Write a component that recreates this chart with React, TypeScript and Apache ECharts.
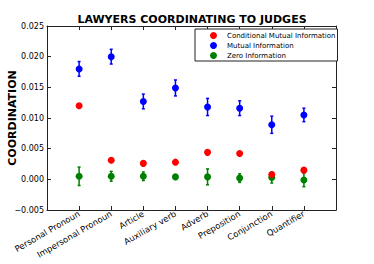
import React, { useEffect, useRef } from "react";
import * as echarts from "echarts";

const categories = [
  "Personal Pronoun",
  "Impersonal Pronoun",
  "Article",
  "Auxiliary verb",
  "Adverb",
  "Preposition",
  "Conjunction",
  "Quantifier",
];
const cmiValues = [0.012, 0.0031, 0.0026, 0.0028, 0.0044, 0.0042, 0.0008, 0.0015];
const miValues = [0.018, 0.02, 0.0127, 0.0149, 0.0118, 0.0116, 0.0089, 0.0105];
const miErrors = [0.0012, 0.0012, 0.0012, 0.0013, 0.0014, 0.0012, 0.0014, 0.0011];
const zeroValues = [0.0005, 0.0005, 0.0005, 0.0004, 0.0004, 0.0002, 0.0003, -0.0001];
const zeroErrors = [0.0015, 0.0008, 0.0007, 0.0003, 0.0013, 0.0007, 0.0009, 0.0011];
const yTicks = { min: -0.005, max: 0.025, interval: 0.005 };
const tickPositions = categories.map((_, i) => i);

const FONT = "DejaVu Sans";

function errorBarSeries(values: number[], errs: number[], color: string, z: number) {
  return {
    type: "custom",
    z,
    silent: true,
    data: values.map((v, i) => [i, v - errs[i], v + errs[i]]),
    renderItem: (params: any, api: any) => {
      const x = api.value(0);
      const lo = api.coord([x, api.value(1)]);
      const hi = api.coord([x, api.value(2)]);
      const cap = 1.5;
      const style = { stroke: color, lineWidth: 1.5 };
      return {
        type: "group",
        children: [
          { type: "line", shape: { x1: lo[0], y1: lo[1], x2: hi[0], y2: hi[1] }, style },
          { type: "line", shape: { x1: lo[0] - cap, y1: lo[1], x2: lo[0] + cap, y2: lo[1] }, style },
          { type: "line", shape: { x1: hi[0] - cap, y1: hi[1], x2: hi[0] + cap, y2: hi[1] }, style },
        ],
      };
    },
  };
}

export default function App() {
  const ref = useRef<HTMLDivElement>(null);
  useEffect(() => {
    if (!ref.current) return;
    const chart = echarts.init(ref.current, undefined, { renderer: "svg" });
    const frame = { lineStyle: { color: "#222", width: 1 } };
    const fmtY = (v: number) => {
      const n = Math.abs(v) < 1e-9 ? 0 : v;
      return n.toFixed(3).replace("-", "\u2212");
    };
    chart.setOption({
      animation: false,
      textStyle: { fontFamily: FONT },
      grid: { left: 47, right: 38, top: 26, bottom: 54, outerBoundsMode: "none", containLabel: false },
      graphic: [
        {
          type: "text",
          x: 192,
          y: 19,
          style: {
            text: "LAWYERS COORDINATING TO JUDGES",
            fontFamily: FONT,
            fontWeight: "bold",
            fontSize: 11,
            fill: "#000",
            textAlign: "center",
            textVerticalAlign: "middle",
          },
        },
        {
          type: "text",
          x: 12,
          y: 118,
          rotation: Math.PI / 2,
          style: {
            text: "COORDINATION",
            fontFamily: FONT,
            fontWeight: "bold",
            fontSize: 11,
            fill: "#000",
            textAlign: "center",
            textVerticalAlign: "middle",
          },
        },
      ],
      legend: {
        orient: "vertical",
        left: 195,
        top: 29,
        padding: [3, 2, 2, 15],
        itemGap: 3,
        itemWidth: 7,
        itemHeight: 7,
        backgroundColor: "#fff",
        borderColor: "#222",
        borderWidth: 1,
        borderRadius: 0,
        textStyle: { fontFamily: FONT, fontSize: 7, lineHeight: 7, color: "#000", padding: [0, 0, 0, 5] },
        data: [
          { name: "Conditional Mutual Information", icon: "circle" },
          { name: "Mutual Information", icon: "circle" },
          { name: "Zero Information", icon: "circle" },
        ],
      },
      xAxis: [
        {
          type: "value",
          min: -1,
          max: 8,
          position: "bottom",
          axisLine: { show: true, onZero: false, ...frame },
          axisTick: { show: true, inside: true, length: 4, customValues: tickPositions, ...frame },
          axisLabel: {
            customValues: tickPositions,
            rotate: 30,
            fontSize: 8.5,
            fontFamily: FONT,
            color: "#000",
            margin: 3,
            formatter: (v: number) => categories[Math.round(v)] ?? "",
          },
          splitLine: { show: false },
        },
        {
          type: "value",
          min: -1,
          max: 8,
          position: "top",
          axisLine: { show: true, onZero: false, ...frame },
          axisTick: { show: true, inside: true, length: 4, customValues: tickPositions, ...frame },
          axisLabel: { show: false },
          splitLine: { show: false },
        },
      ],
      yAxis: [
        {
          type: "value",
          min: yTicks.min,
          max: yTicks.max,
          interval: yTicks.interval,
          position: "left",
          axisLine: { show: true, onZero: false, ...frame },
          axisTick: { show: true, inside: true, length: 4, ...frame },
          axisLabel: { fontSize: 8, fontFamily: FONT, color: "#000", margin: 3, formatter: fmtY },
          splitLine: { show: false },
        },
        {
          type: "value",
          min: yTicks.min,
          max: yTicks.max,
          interval: yTicks.interval,
          position: "right",
          axisLine: { show: true, onZero: false, ...frame },
          axisTick: { show: true, inside: true, length: 4, ...frame },
          axisLabel: { show: false },
          splitLine: { show: false },
        },
      ],
      series: [
        errorBarSeries(zeroValues, zeroErrors, "#008000", 2),
        {
          name: "Zero Information",
          type: "scatter",
          z: 3,
          symbolSize: 7,
          itemStyle: { color: "#008000", opacity: 1 },
          data: zeroValues.map((v, i) => [i, v]),
        },
        errorBarSeries(miValues, miErrors, "#0000ff", 2),
        {
          name: "Mutual Information",
          type: "scatter",
          z: 3,
          symbolSize: 7,
          itemStyle: { color: "#0000ff", opacity: 1 },
          data: miValues.map((v, i) => [i, v]),
        },
        {
          name: "Conditional Mutual Information",
          type: "scatter",
          z: 4,
          symbolSize: 7,
          itemStyle: { color: "#ff0000", opacity: 1 },
          data: cmiValues.map((v, i) => [i, v]),
        },
      ],
    });
    return () => chart.dispose();
  }, []);
  return (
    <div
      ref={ref}
      style={{ position: "fixed", left: 0, top: 0, width: 374, height: 264, background: "#fff" }}
    />
  );
}
